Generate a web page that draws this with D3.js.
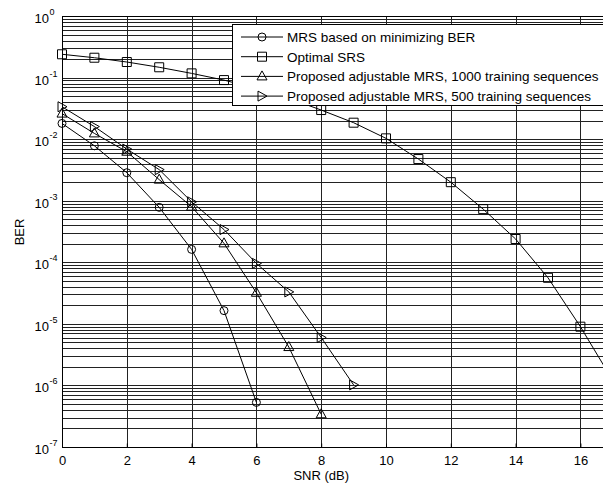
<!DOCTYPE html>
<html>
<head>
<meta charset="utf-8">
<script src="https://cdn.jsdelivr.net/npm/d3@7"></script>
<style>
  body { margin: 0; background: #fff; }
  svg { display: block; font-family: "Liberation Sans", Arial, sans-serif; }
</style>
</head>
<body>
<svg width="603" height="486"></svg>
<script>
// data
var snrMrs = [0, 1, 2, 3, 4, 5, 6];
var berMrs = [0.018, 0.0078, 0.00285, 0.00078, 1.62e-4, 1.64e-5, 5.3e-7];

var snrSrs = [0, 1, 2, 3, 4, 5, 6, 7, 8, 9, 10, 11, 12, 13, 14, 15, 16, 17];
var berSrs = [0.239, 0.21, 0.179, 0.147, 0.117, 0.091, 0.066, 0.046, 0.0297, 0.0185,
  0.0103, 0.00475, 0.0020, 7.3e-4, 2.39e-4, 5.6e-5, 9.0e-6, 1.2e-6];

var snr1000 = [0, 1, 2, 3, 4, 5, 6, 7, 8];
var ber1000 = [0.026, 0.0124, 0.00625, 0.0022, 8e-4, 2.03e-4, 3.2e-5, 4.2e-6, 3.4e-7];

var snr500 = [0, 1, 2, 3, 4, 5, 6, 7, 8, 9];
var ber500 = [0.0336, 0.016, 0.0069, 0.0032, 9.6e-4, 3.4e-4, 9.6e-5, 3.3e-5, 6.0e-6, 1.02e-6];

var xTicks = [0, 2, 4, 6, 8, 10, 12, 14, 16];
var yExps = [0, -1, -2, -3, -4, -5, -6, -7];

var legendLabels = [
  "MRS based on minimizing BER",
  "Optimal SRS",
  "Proposed adjustable MRS, 1000 training sequences",
  "Proposed adjustable MRS, 500 training sequences"
];

var svg = d3.select("svg");
var plotLeft = 62, plotTop = 16, plotBottom = 447, plotRight = 603;

var x = d3.scaleLinear().domain([0, 18]).range([plotLeft, plotLeft + 18 * 32.4]);
var y = d3.scaleLog().domain([1e-7, 1]).range([plotBottom, plotTop]);

// grid
var minor = [];
yExps.forEach(function(e) {
  if (e === 0) return;
  for (var k = 1; k <= 9; k++) minor.push(k * Math.pow(10, e));
});
svg.append("g")
  .selectAll("line")
  .data(minor)
  .enter().append("line")
  .attr("x1", plotLeft).attr("x2", plotRight)
  .attr("y1", function(d) { return Math.round(y(d)) + 0.5; })
  .attr("y2", function(d) { return Math.round(y(d)) + 0.5; })
  .attr("stroke", "#222").attr("stroke-width", 1);

svg.append("g")
  .selectAll("line")
  .data(xTicks.slice(1))
  .enter().append("line")
  .attr("y1", plotTop).attr("y2", plotBottom)
  .attr("x1", function(d) { return Math.round(x(d)) + 0.5; })
  .attr("x2", function(d) { return Math.round(x(d)) + 0.5; })
  .attr("stroke", "#222").attr("stroke-width", 1);

// axes
var xAxis = svg.append("g")
  .attr("transform", "translate(0," + (plotBottom + 0.5) + ")")
  .call(d3.axisBottom(x).tickValues(xTicks).tickSize(-4).tickPadding(8).tickFormat(d3.format("d")));
xAxis.select(".domain").remove();
xAxis.selectAll("text").attr("font-size", 13).attr("fill", "#000");

svg.append("line")
  .attr("x1", plotLeft).attr("x2", plotRight).attr("y1", plotBottom + 0.5).attr("y2", plotBottom + 0.5)
  .attr("stroke", "#000");
svg.append("line")
  .attr("x1", plotLeft).attr("x2", plotRight).attr("y1", plotTop + 0.5).attr("y2", plotTop + 0.5)
  .attr("stroke", "#000");
svg.append("line")
  .attr("x1", plotLeft + 0.5).attr("x2", plotLeft + 0.5).attr("y1", plotTop).attr("y2", plotBottom + 1)
  .attr("stroke", "#000");

svg.append("g")
  .selectAll("text")
  .data(yExps)
  .enter().append("text")
  .attr("x", 49)
  .attr("y", function(d) { return y(Math.pow(10, d)) + 7; })
  .attr("text-anchor", "end")
  .attr("font-size", 13)
  .text("10");
svg.append("g")
  .selectAll("text")
  .data(yExps)
  .enter().append("text")
  .attr("x", 49.5)
  .attr("y", function(d) { return y(Math.pow(10, d)) - 1; })
  .attr("font-size", 9)
  .text(function(d) { return d; });

svg.append("text")
  .attr("x", x(8)).attr("y", 480)
  .attr("text-anchor", "middle").attr("font-size", 13)
  .text("SNR (dB)");
svg.append("text")
  .attr("transform", "translate(24,232) rotate(-90)")
  .attr("text-anchor", "middle").attr("font-size", 13)
  .text("BER");

// series
var series = [
  { snr: snrMrs, ber: berMrs, mark: "circle" },
  { snr: snrSrs, ber: berSrs, mark: "square" },
  { snr: snr1000, ber: ber1000, mark: "up" },
  { snr: snr500, ber: ber500, mark: "right" }
];

function markerPath(m) {
  if (m === "circle") return "M4,0A4,4 0 1,1 -4,0A4,4 0 1,1 4,0Z";
  if (m === "square") return "M-4.5,-4.5H4.5V4.5H-4.5Z";
  if (m === "up") return "M0,-5.5L5,3.5L-5,3.5Z";
  return "M-4,-5L5,0L-4,5Z";
}

var line = d3.line()
  .x(function(d) { return x(d[0]); })
  .y(function(d) { return y(d[1]); });

var plot = svg.append("g");
series.forEach(function(s) {
  var pts = s.snr.map(function(v, i) { return [v, s.ber[i]]; });
  plot.append("path")
    .datum(pts)
    .attr("d", line)
    .attr("fill", "none")
    .attr("stroke", "#000")
    .attr("stroke-width", 1);
  plot.selectAll(null)
    .data(pts)
    .enter().append("path")
    .attr("transform", function(d) { return "translate(" + x(d[0]) + "," + y(d[1]) + ")"; })
    .attr("d", markerPath(s.mark))
    .attr("fill", "none")
    .attr("stroke", "#000")
    .attr("stroke-width", 1);
});

// legend
var lg = svg.append("g");
lg.append("rect")
  .attr("x", 232.5).attr("y", 24.5).attr("width", 400).attr("height", 81)
  .attr("fill", "#fff").attr("stroke", "#000");
series.forEach(function(s, i) {
  var ly = 37 + i * 19.7;
  lg.append("line")
    .attr("x1", 241).attr("x2", 283).attr("y1", ly).attr("y2", ly)
    .attr("stroke", "#000");
  lg.append("path")
    .attr("transform", "translate(262," + ly + ")")
    .attr("d", markerPath(s.mark))
    .attr("fill", "none").attr("stroke", "#000");
  lg.append("text")
    .attr("x", 287).attr("y", ly + 5)
    .attr("font-size", 13.5)
    .text(legendLabels[i]);
});
</script>
</body>
</html>
